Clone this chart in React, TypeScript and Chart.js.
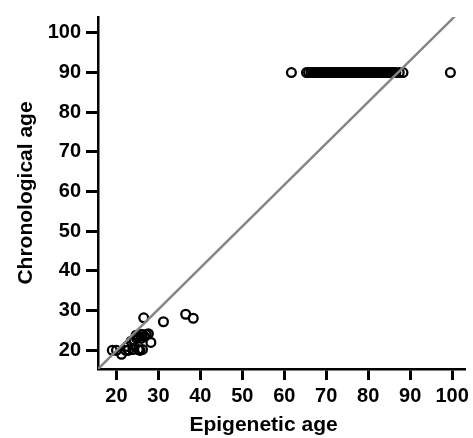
import React, { useEffect, useRef } from "react";
import { Chart, registerables } from "chart.js";

Chart.register(...registerables);

// Epigenetic age (x) vs chronological age (y)
const lowEpigenetic = [19, 20, 21.2, 22.2, 22.8, 23.9, 25.2, 25.6, 26.2, 22.6, 23.5, 24.2, 24.8, 25.3, 25.8, 26.2, 26.7, 27.1, 27.6, 25.9, 24.7, 28.2, 26.5, 31.2, 36.5, 38.3];
const lowChronological = [20, 20, 19, 20, 20, 20.2, 20.2, 20, 20.2, 21, 22.3, 22.6, 23, 23.4, 24, 24, 23.5, 24, 24.2, 23, 23.8, 22, 28.2, 27.2, 29.1, 28.1];

const highEpigenetic = [61.7, 65.3, 65.8, 66.4, 66.9, 67.3, 67.8, 68.2, 68.7, 69.1, 69.5, 70, 70.4, 70.9, 71.2, 71.6, 72.1, 72.5, 72.8, 73.3, 73.7, 74.1, 74.4, 74.9, 75.3, 75.6, 76, 76.5, 76.8, 77.2, 77.7, 78, 78.4, 78.9, 79.2, 79.6, 80, 80.5, 80.9, 81.3, 81.7, 82.1, 82.6, 83, 83.4, 83.9, 84.3, 84.8, 85.2, 85.7, 86.1, 86.6, 87.4, 88.3, 99.6];
const highChronological = highEpigenetic.map(() => 90);

const lineX = [15.6, 100.7];
const lineY = [15.3, 104.2];

const xTicks = [20, 30, 40, 50, 60, 70, 80, 90, 100];
const yTicks = [20, 30, 40, 50, 60, 70, 80, 90, 100];

const FONT = '"Liberation Sans", Arial, Helvetica, sans-serif';

export default function App() {
  const ref = useRef<HTMLCanvasElement | null>(null);

  useEffect(() => {
    if (!ref.current) return;
    const points = [
      ...lowEpigenetic.map((x, i) => ({ x, y: lowChronological[i] })),
      ...highEpigenetic.map((x, i) => ({ x, y: highChronological[i] })),
    ];
    const linePts = lineX.map((x, i) => ({ x, y: lineY[i] }));

    const xTitlePlugin = {
      id: "xTitle",
      afterDraw(chart: any) {
        const { ctx, chartArea } = chart;
        ctx.save();
        ctx.font = `bold 21px ${FONT}`;
        ctx.fillStyle = "#000";
        ctx.textAlign = "center";
        ctx.textBaseline = "middle";
        ctx.fillText("Epigenetic age", (chartArea.left + chartArea.right) / 2 - 18, 425);
        ctx.restore();
      },
    };

    const chart = new Chart(ref.current, {
      type: "scatter",
      data: {
        datasets: [
          {
            type: "line",
            data: linePts,
            borderColor: "#858585",
            borderWidth: 2.5,
            pointRadius: 0,
            fill: false,
            clip: 0,
          } as any,
          {
            type: "scatter",
            data: points,
            pointStyle: "circle",
            pointRadius: 4.4,
            pointBorderWidth: 2.3,
            borderColor: "#000",
            backgroundColor: "rgba(0,0,0,0)",
          } as any,
        ],
      },
      plugins: [xTitlePlugin],
      options: {
        animation: false,
        responsive: false,
        maintainAspectRatio: false,
        layout: { padding: { left: 14, top: 13, right: 3, bottom: 0 } },
        plugins: { legend: { display: false }, tooltip: { enabled: false } },
        scales: {
          x: {
            type: "linear",
            min: 15.6,
            max: 103.1,
            afterBuildTicks: (s: any) => {
              s.ticks = xTicks.map((v) => ({ value: v }));
            },
            afterFit: (s: any) => {
              s.height = 69;
            },
            grid: {
              drawOnChartArea: false,
              drawTicks: true,
              tickLength: 11,
              tickWidth: 3,
              tickColor: "#000",
            },
            border: { display: true, color: "#000", width: 2.5 },
            ticks: {
              color: "#000",
              font: { family: FONT, size: 20, weight: "bold" },
              padding: 4,
              maxRotation: 0,
              autoSkip: false,
            },
          },
          y: {
            type: "linear",
            min: 15.3,
            max: 104,
            afterBuildTicks: (s: any) => {
              s.ticks = yTicks.map((v) => ({ value: v }));
            },
            afterFit: (s: any) => {
              s.width = 84;
            },
            grid: {
              drawOnChartArea: false,
              drawTicks: true,
              tickLength: 12,
              tickWidth: 3,
              tickColor: "#000",
            },
            border: { display: true, color: "#000", width: 2.5 },
            ticks: {
              color: "#000",
              font: { family: FONT, size: 20, weight: "bold" },
              padding: 5,
              autoSkip: false,
            },
            title: {
              display: true,
              text: "Chronological age",
              color: "#000",
              font: { family: FONT, size: 21, weight: "bold" },
              padding: 0,
            },
          },
        },
      },
    });
    return () => chart.destroy();
  }, []);

  return (
    <div style={{ position: "absolute", left: 0, top: 0, width: 473, height: 438, background: "#fff" }}>
      <canvas ref={ref} width={473} height={438} style={{ width: 473, height: 438 }} />
    </div>
  );
}
